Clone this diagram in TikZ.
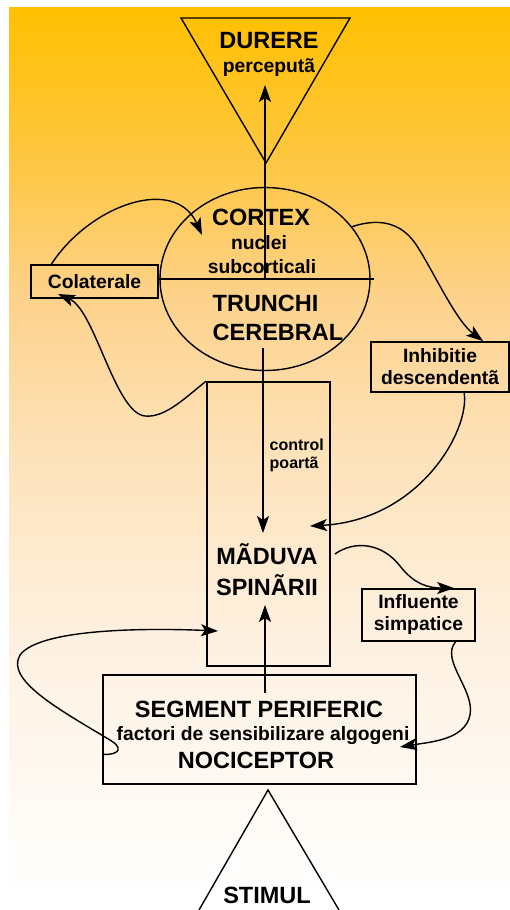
\documentclass[tikz,border=0pt]{standalone}
\usepackage{fontspec}
\setmainfont{Liberation Sans}
\usepackage{xcolor}
\definecolor{bgorange}{RGB}{255,192,0}
\definecolor{bgamber}{RGB}{254,198,60}
\definecolor{bgpeach}{RGB}{253,210,140}
\definecolor{bgsand}{RGB}{253,226,185}
\definecolor{bgcream}{RGB}{254,241,225}
\usetikzlibrary{arrows.meta,positioning,shapes.geometric,calc}
\pgfdeclareverticalshading{bgfade}{100bp}{color(0bp)=(white); color(25bp)=(white); color(39bp)=(bgcream); color(50bp)=(bgsand); color(58.5bp)=(bgpeach); color(67bp)=(bgamber); color(75bp)=(bgorange); color(100bp)=(bgorange)}

\begin{document}
\begin{tikzpicture}[x=1pt,y=-1pt,line width=1.4pt,
  bigtxt/.style={font=\fontsize{23.5}{28}\selectfont\bfseries},
  smalltxt/.style={font=\fontsize{19.3}{22}\selectfont\bfseries},
  tinytxt/.style={font=\fontsize{16}{18}\selectfont\bfseries},
  box/.style={draw,line width=1.8pt,inner sep=0pt,align=center},
  conn/.style={-{Stealth[length=17pt,width=12pt,inset=4pt]},line width=1.4pt}]
  \useasboundingbox (0,0) rectangle (510,910);
  \shade[shading=bgfade] (9,7) rectangle (510,893);
  % perceived pain
  \coordinate (durapex) at (266,163);
  \draw (181,18) -- (350,18) -- (durapex) -- cycle;
  \node[bigtxt,anchor=base] (durere) at (269,48) {DURERE};
  \node[smalltxt,anchor=base] (percep) at (269,72) {perceputã};
  % brain
  \node[draw,ellipse,minimum width=210,minimum height=183,inner sep=0pt] (brain) at (265,279) {};
  \draw (brain.west) -- ($(brain.east)+(3,0)$);
  \node[bigtxt,anchor=base] (cortex) at (261,225) {CORTEX};
  \node[smalltxt,anchor=base] (nuclei) at (259,249) {nuclei};
  \node[smalltxt,anchor=base] (subcort) at (262,273) {subcorticali};
  \node[bigtxt,anchor=base west,inner sep=0pt] (trunchi) at (212,311) {TRUNCHI};
  \node[bigtxt,anchor=base west,inner sep=0pt] (cerebral) at (212,340) {CEREBRAL};
  \node[box,smalltxt,minimum width=127,minimum height=33] (colat) at (94.5,281.5) {Colaterale};
  \node[box,smalltxt,minimum width=138,minimum height=50] (inhib) at (440,367) {Inhibitie\\descendentã};
  % spinal cord
  \node[box,minimum width=123,minimum height=284] (maduva) at (268.5,524) {};
  \node[tinytxt,anchor=base west,inner sep=0pt] (ctrl) at (269,450) {control};
  \node[tinytxt,anchor=base west,inner sep=0pt] (poarta) at (269,468) {poartã};
  \node[bigtxt,anchor=base] (madtxt) at (267,564) {MÃDUVA};
  \node[bigtxt,anchor=base] (spintxt) at (267,595) {SPINÃRII};
  \node[box,smalltxt,minimum width=113,minimum height=52] (influ) at (418.5,615) {Influente\\simpatice};
  % periphery
  \node[box,minimum width=313,minimum height=109] (seg) at (259.5,729.5) {};
  \node[bigtxt,anchor=base] (segtxt) at (259,717) {SEGMENT PERIFERIC};
  \node[smalltxt,anchor=base] (factori) at (263,740) {factori de sensibilizare algogeni};
  \node[bigtxt,anchor=base] (nocic) at (256,768) {NOCICEPTOR};
  \coordinate (stimapex) at (268,790);
  \draw (199,910) -- (stimapex) -- (339,910);
  \node[bigtxt,anchor=base] (stimul) at (267,903) {STIMUL};
  % arrow ends
  \coordinate (durtip) at (265,85);
  \coordinate (ctxin) at (202,235);
  \coordinate (colatin) at (58,294);
  \coordinate (gatetop) at (263,348);
  \coordinate (gatetip) at (263,533);
  \coordinate (madin) at (310,526);
  \coordinate (madleft) at (218,631);
  \coordinate (noctop) at (265,693);
  \coordinate (madup) at (265,605);
  \coordinate (segin) at (400,747);
  % connectors
  \draw[conn] (brain.center) -- (durtip);
  \draw[conn] (gatetop) -- (gatetip);
  \draw[conn] (noctop) -- (madup);
  \draw[conn] (colat.158) .. controls (90,205) and (175,175) .. (ctxin);
  \draw[conn] (maduva.north west) .. controls (185,398) and (165,418) .. (145,416) .. controls (115,413) and (95,310) .. (colatin);
  \draw[conn] (brain.31) .. controls (378,218) and (400,222) .. (415,243) .. controls (432,268) and (455,320) .. (inhib.31);
  \draw[conn] (inhib.-47) .. controls (470,430) and (420,520) .. (madin);
  \draw[conn] ($(maduva.east)+(4,30)$) .. controls (355,540) and (382,543) .. (400,566) .. controls (414,584) and (428,588) .. (influ.37);
  \draw[conn] (influ.-36) .. controls (440,660) and (475,690) .. (470,715) .. controls (465,740) and (430,742) .. (segin);
  \draw[conn] (seg.189) .. controls (122,755) and (122,747) .. (110,740) .. controls (60,710) and (5,680) .. (20,655) .. controls (40,628) and (150,628) .. (madleft);
\end{tikzpicture}
\end{document}
